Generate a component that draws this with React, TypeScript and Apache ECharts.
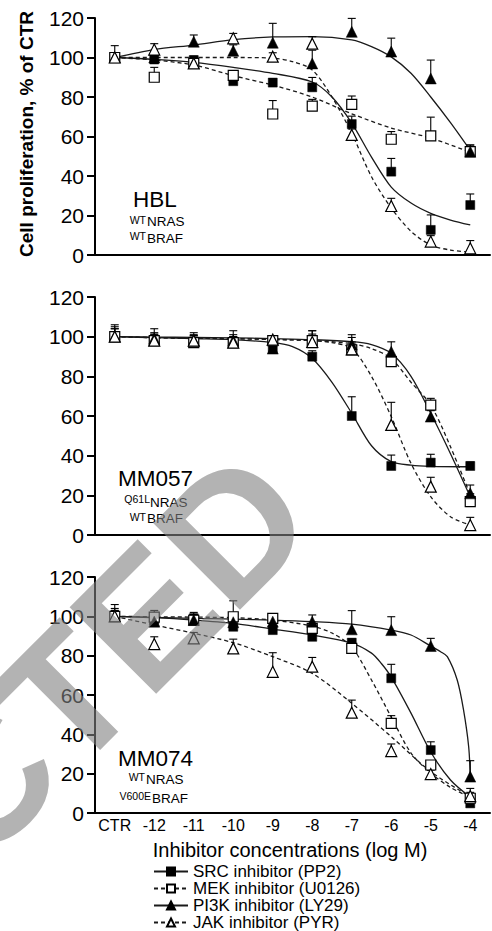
import React, { useEffect, useRef } from 'react';
import * as echarts from 'echarts';

const FONT = '"Liberation Sans", Arial, Helvetica, sans-serif';

// ---------- categories / ticks ----------
const doses = [-13, -12, -11, -10, -9, -8, -7, -6, -5, -4];
const doseLabels = ['CTR', '-12', '-11', '-10', '-9', '-8', '-7', '-6', '-5', '-4'];
const inhibitors = ['SRC inhibitor (PP2)', 'MEK inhibitor (U0126)', 'PI3K inhibitor (LY29)', 'JAK inhibitor (PYR)'];
const cellLines = ['HBL', 'MM057', 'MM074'];

// ---------- HBL : means / SEM ----------
const hblSrc = [100, 99, 98.7, 88, 87.3, 84.9, 66.3, 42.2, 12.7, 25.3];
const hblSrcErr = [2, 2, 2, 2, 2, 5, 4, 6.7, 7.6, 5.6];
const hblMek = [100, 90, 97, 91, 71.4, 75.4, 76.3, 58.6, 60.3, 52.3];
const hblMekErr = [2, 5, 2, 2, 6.8, 3.4, 4.2, 3.9, 9.5, 3.4];
const hblPi3k = [100, 100, 108, 103.4, 107.5, 97, 113, 103, 89.4, 52.3];
const hblPi3kErr = [2, 2, 3.4, 3, 9.8, 6.7, 6.8, 6.8, 9.3, 3.4];
const hblJak = [100, 104, 97, 109.7, 100.4, 107, 60.8, 24.8, 6.8, 3.4];
const hblJakErr = [6, 3, 2, 2.5, 2, 3.5, 3, 3.9, 3, 3.9];

// ---------- HBL : fitted curves ----------
const hblSrcFitX = [-13, -12, -11, -10, -9, -8, -7.5, -7, -6.5, -6, -5.5, -5, -4.5, -4];
const hblSrcFitY = [100, 99, 97.5, 95, 92, 87.6, 80, 66.8, 49.6, 34.4, 26.3, 21.1, 17.7, 15.2];
const hblMekFitX = [-13, -12, -11, -10, -9, -8, -7, -6, -5, -4];
const hblMekFitY = [100, 98.7, 96.2, 90.8, 86, 80, 71.5, 64.3, 59.2, 52];
const hblPi3kFitX = [-13, -12, -11, -10, -9, -8, -7, -6.5, -6, -5.5, -5, -4.5, -4];
const hblPi3kFitY = [100, 104, 106.3, 109, 110.4, 110.6, 108.9, 105.5, 100.3, 92, 80, 67, 53];
const hblJakFitX = [-13, -12, -11, -10, -9, -8.5, -8, -7.5, -7, -6.5, -6, -5.5, -5, -4.5, -4];
const hblJakFitY = [100, 100, 100, 100, 99.7, 97.9, 93.7, 80, 61.6, 39.6, 23.8, 12, 5, 2.5, 1.5];

// ---------- MM057 : means / SEM ----------
const m57Src = [100, 98.3, 97.5, 97, 94.1, 89.9, 60, 34.8, 36.5, 34.8];
const m57SrcErr = [5, 3, 3, 3, 3, 3, 9.7, 5.5, 4.2, 2];
const m57Mek = [100, 98, 97, 97, 98, 98, 93.3, 87.4, 65.5, 16.8];
const m57MekErr = [4, 4, 3.5, 4, 2.5, 5, 4, 3, 3.4, 4];
const m57Pi3k = [100, 99, 98, 98, 94, 97, 96, 92.4, 59.7, 21];
const m57Pi3kErr = [6, 5, 4, 5, 2, 6, 5, 5, 3, 4.2];
const m57Jak = [100, 98, 98, 97, 98.5, 97.3, 93.6, 55.5, 24.4, 5];
const m57JakErr = [4, 3, 3, 3, 2, 4, 6, 11.4, 4.7, 3.9];

// ---------- MM057 : fitted curves ----------
const m57SrcFitX = [-13, -12, -11, -10, -9, -8.5, -8, -7.5, -7, -6.5, -6, -5.5, -5, -4];
const m57SrcFitY = [100, 99.5, 99, 98.5, 97, 95, 89, 77, 61.4, 45, 37, 35.2, 34.6, 34.4];
const m57MekFitX = [-13, -12, -11, -10, -9, -8, -7, -6.5, -6, -5.5, -5, -4.5, -4];
const m57MekFitY = [100, 99.5, 99.2, 99, 98.6, 98, 96.5, 94, 89, 77, 65.5, 44.5, 20.2];
const m57Pi3kFitX = [-13, -12, -11, -10, -9, -8, -7, -6.5, -6, -5.5, -5, -4.5, -4];
const m57Pi3kFitY = [100, 99.8, 99.6, 99.4, 99, 98.5, 97.5, 96, 91.6, 80, 61.4, 41, 19.3];
const m57JakFitX = [-13, -12, -11, -10, -9, -8, -7.5, -7, -6.5, -6, -5.5, -5, -4.5, -4];
const m57JakFitY = [100, 99.5, 99.2, 99, 98.6, 98, 97, 94, 80, 59.7, 36.1, 19.3, 9.2, 5];

// ---------- MM074 : means / SEM ----------
const m74Src = [100, 98.1, 99, 94.7, 93, 89.6, 86.6, 68.5, 32, 4.9];
const m74SrcErr = [3, 3, 3, 3, 2, 2, 2, 7.1, 4.2, 2];
const m74Mek = [100, 99.6, 98, 99.8, 99, 93.9, 83.7, 45.6, 24.4, 7.5];
const m74MekErr = [3, 3.4, 2, 8.1, 2, 2, 2, 3.9, 2, 3];
const m74Pi3k = [100, 97.3, 98.1, 97, 97.3, 97.3, 93.4, 93, 84.9, 18.5];
const m74Pi3kErr = [4, 3, 3, 3, 2, 3.4, 9.5, 6.8, 3.9, 8.1];
const m74Jak = [100, 85.9, 88.8, 83.7, 71.8, 74.4, 51, 31.5, 19.8, 8.6];
const m74JakErr = [6, 3.7, 3, 4.7, 9.7, 4.7, 6.4, 3.6, 2, 3.9];

// ---------- MM074 : fitted curves ----------
const m74SrcFitX = [-13, -12, -11, -10, -9, -8, -7, -6.5, -6.25, -6, -5.5, -5, -4.5, -4];
const m74SrcFitY = [100, 99.3, 98.1, 96.4, 93.5, 90.5, 86.4, 81.3, 76, 69.1, 50.8, 31, 16.8, 8.1];
const m74MekFitX = [-13, -12, -11, -10, -9, -8, -7.5, -7, -6.5, -6, -5.5, -5, -4.5, -4];
const m74MekFitY = [100, 99.8, 99.6, 99.3, 98.1, 95, 91.5, 84.4, 67.6, 48.8, 30.5, 20.3, 13, 8.1];
const m74Pi3kFitX = [-13, -12, -11, -10, -9, -8, -7, -6, -5.5, -5, -4.75, -4.58, -4.33, -4.17, -4.04, -4];
const m74Pi3kFitY = [100, 99.5, 99, 98.6, 98.1, 97.3, 96, 93, 90.5, 84.9, 82, 79.5, 67.6, 52.4, 33.7, 18.5];
const m74JakFitX = [-13, -12, -11, -10, -9, -8, -7, -6, -5, -4];
const m74JakFitY = [100, 95.6, 91.4, 86.6, 79.5, 71, 55.8, 38.8, 21, 8.3];

// ---------- assembly ----------
const panels = [
  {
    pts: [[hblSrc, hblSrcErr], [hblMek, hblMekErr], [hblPi3k, hblPi3kErr], [hblJak, hblJakErr]],
    fits: [[hblSrcFitX, hblSrcFitY], [hblMekFitX, hblMekFitY], [hblPi3kFitX, hblPi3kFitY], [hblJakFitX, hblJakFitY]],
  },
  {
    pts: [[m57Src, m57SrcErr], [m57Mek, m57MekErr], [m57Pi3k, m57Pi3kErr], [m57Jak, m57JakErr]],
    fits: [[m57SrcFitX, m57SrcFitY], [m57MekFitX, m57MekFitY], [m57Pi3kFitX, m57Pi3kFitY], [m57JakFitX, m57JakFitY]],
  },
  {
    pts: [[m74Src, m74SrcErr], [m74Mek, m74MekErr], [m74Pi3k, m74Pi3kErr], [m74Jak, m74JakErr]],
    fits: [[m74SrcFitX, m74SrcFitY], [m74MekFitX, m74MekFitY], [m74Pi3kFitX, m74Pi3kFitY], [m74JakFitX, m74JakFitY]],
  },
];

const styles = [
  { symbol: 'rect', size: 9, fill: '#000', dash: 'solid' },
  { symbol: 'rect', size: 10, fill: '#fff', dash: 'dashed' },
  { symbol: 'triangle', size: 11, fill: '#000', dash: 'solid' },
  { symbol: 'triangle', size: 11, fill: '#fff', dash: 'dashed' },
];

const grids = [
  { left: 95, right: 2, top: 18, height: 237 },
  { left: 95, right: 2, top: 297, height: 238 },
  { left: 95, right: 2, top: 577, height: 236 },
];

function txt(text: string, x: number, y: number, size: number, align: string, extra: any = {}) {
  return {
    type: 'text',
    x,
    y,
    z: 50,
    silent: true,
    ...extra,
    style: {
      text,
      x: 0,
      y: 0,
      font: `${extra.bold ? 'bold ' : ''}${size}px ${FONT}`,
      fill: extra.fill || '#000',
      align,
      textAlign: align,
      verticalAlign: 'middle',
      textVerticalAlign: 'middle',
    },
  };
}

export default function App() {
  const ref = useRef<HTMLDivElement>(null);

  useEffect(() => {
    if (!ref.current) return;
    const chart = echarts.init(ref.current, undefined, { renderer: 'svg' });

    const series: any[] = [];
    // fitted curves
    panels.forEach((p, pi) => {
      p.fits.forEach((f, si) => {
        const st = styles[si];
        series.push({
          type: 'line',
          name: inhibitors[si],
          xAxisIndex: pi,
          yAxisIndex: pi,
          data: f[0].map((x: number, i: number) => [x, f[1][i]]),
          smooth: 0.3,
          showSymbol: false,
          symbol: st.symbol,
          symbolSize: st.size,
          itemStyle: { color: st.fill, borderColor: '#000', borderWidth: 1.2 },
          lineStyle: { color: '#1a1a1a', width: 1.3, type: st.dash === 'dashed' ? [4, 3] : 'solid' },
          z: 2,
          silent: true,
        });
      });
    });
    // error bars
    panels.forEach((p, pi) => {
      p.pts.forEach((pt, si) => {
        series.push({
          type: 'custom',
          name: 'err' + pi + si,
          xAxisIndex: pi,
          yAxisIndex: pi,
          z: 3,
          silent: true,
          data: doses.map((d, i) => [d, pt[0][i], pt[1][i]]),
          renderItem: (params: any, api: any) => {
            const x = api.value(0);
            const y = api.value(1);
            const e = api.value(2);
            const a = api.coord([x, y]);
            const b = api.coord([x, y + e]);
            return {
              type: 'group',
              children: [
                { type: 'line', shape: { x1: a[0], y1: a[1], x2: b[0], y2: b[1] }, style: { stroke: '#000', lineWidth: 1.1 } },
                { type: 'line', shape: { x1: b[0] - 4, y1: b[1], x2: b[0] + 4, y2: b[1] }, style: { stroke: '#000', lineWidth: 1.1 } },
              ],
            };
          },
        });
      });
    });
    // markers
    panels.forEach((p, pi) => {
      p.pts.forEach((pt, si) => {
        const st = styles[si];
        series.push({
          type: 'scatter',
          name: 'pts' + pi + si,
          xAxisIndex: pi,
          yAxisIndex: pi,
          z: 4,
          silent: true,
          symbol: st.symbol,
          symbolSize: st.size,
          itemStyle: { color: st.fill, borderColor: '#000', borderWidth: st.fill === '#fff' ? 1.2 : 0.5, opacity: 1 },
          data: doses.map((d, i) => [d, pt[0][i]]),
        });
      });
    });

    const xAxes = grids.map((g, gi) => ({
      type: 'value',
      gridIndex: gi,
      min: -13.5,
      max: -3.5,
      axisLine: { show: true, onZero: false, lineStyle: { color: '#000', width: 2 } },
      axisTick: { show: false },
      splitLine: { show: false },
      axisLabel: {
        show: gi === 2,
        customValues: doses,
        formatter: (v: number) => doseLabels[doses.indexOf(Math.round(v))] ?? '',
        color: '#000',
        fontSize: 16,
        fontFamily: FONT,
        margin: 4,
      },
    }));

    const yAxes = grids.map((g, gi) => ({
      type: 'value',
      gridIndex: gi,
      min: 0,
      max: 120,
      interval: 20,
      axisLine: { show: true, lineStyle: { color: '#000', width: 2 } },
      axisTick: { show: true, inside: false, length: 8, lineStyle: { color: '#000', width: 2 } },
      splitLine: { show: false },
      axisLabel: { color: '#000', fontSize: 21, fontFamily: FONT, margin: 11 },
    }));

    const graphic: any[] = [
      txt('Cell proliferation, % of CTR', 26, 134, 19, 'center', { rotation: Math.PI / 2, bold: true }),
      txt('Inhibitor concentrations (log M)', 290, 850, 20, 'center'),
      // HBL
      txt(cellLines[0], 133, 199, 22.5, 'left'),
      txt('WT', 146, 220.3, 10.5, 'right'),
      txt('NRAS', 147, 221.3, 13.5, 'left'),
      txt('WT', 146, 236.3, 10.5, 'right'),
      txt('BRAF', 147, 238.3, 13.5, 'left'),
      // MM057
      txt(cellLines[1], 118, 478.1, 22.5, 'left'),
      txt('Q61L', 150, 499, 10.5, 'right'),
      txt('NRAS', 150, 502, 13.5, 'left'),
      txt('WT', 146, 517, 10.5, 'right'),
      txt('BRAF', 147, 518.6, 13.5, 'left'),
      // MM074
      txt(cellLines[2], 118, 758.1, 22.5, 'left'),
      txt('WT', 145, 777, 10.5, 'right'),
      txt('NRAS', 146, 779.3, 13.5, 'left'),
      txt('V600E', 151, 796.3, 10.5, 'right'),
      txt('BRAF', 152, 798.6, 13.5, 'left'),
      // watermark
      {
        type: 'text',
        x: 279,
        y: 484,
        rotation: Math.PI / 4,
        z: 100,
        silent: true,
        style: {
          text: 'RETRACTED',
          x: 0,
          y: 0,
          font: `bold 178px ${FONT}`,
          fill: 'rgba(128,128,128,0.6)',
          align: 'right',
          textAlign: 'right',
          verticalAlign: 'middle',
          textVerticalAlign: 'middle',
        },
      },
    ];

    chart.setOption({
      animation: false,
      backgroundColor: '#fff',
      grid: grids,
      xAxis: xAxes,
      yAxis: yAxes,
      legend: {
        data: inhibitors,
        orient: 'vertical',
        left: 153,
        top: 863,
        padding: 0,
        itemWidth: 34,
        itemHeight: 10,
        itemGap: 0,
        selectedMode: false,
        textStyle: { fontSize: 17, color: '#000', fontFamily: FONT, lineHeight: 16.3 },
      },
      graphic,
      series,
    });

    return () => chart.dispose();
  }, []);

  return (
    <div
      ref={ref}
      style={{ position: 'fixed', left: 0, top: 0, width: 492, height: 931, background: '#fff' }}
    />
  );
}
